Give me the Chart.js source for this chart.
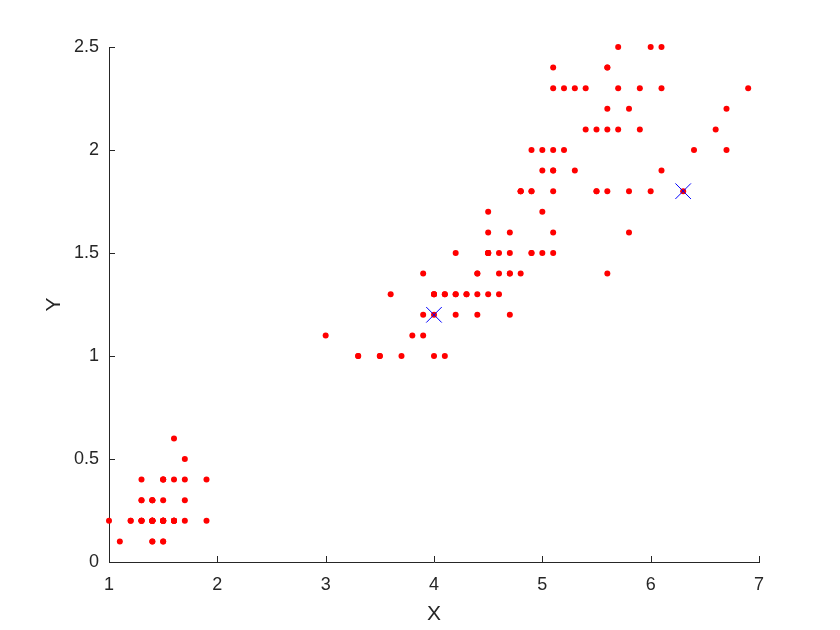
<!DOCTYPE html>
<html>
<head>
<meta charset="utf-8">
<script src="https://cdn.jsdelivr.net/npm/chart.js@4"></script>
<style>
html,body{margin:0;padding:0;background:#fff;}
#wrap{width:840px;height:630px;}
</style>
</head>
<body>
<div id="wrap"><canvas id="c" width="840" height="630"></canvas></div>
<script>
// Petal length (X) and petal width (Y)
const xValues = [
1.4,1.4,1.3,1.5,1.4,1.7,1.4,1.5,1.4,1.5,1.5,1.6,1.4,1.1,1.2,1.5,1.3,1.4,1.7,1.5,
1.7,1.5,1.0,1.7,1.9,1.6,1.6,1.5,1.4,1.6,1.6,1.5,1.5,1.4,1.5,1.2,1.3,1.4,1.3,1.5,
1.3,1.3,1.3,1.6,1.9,1.4,1.6,1.4,1.5,1.4,
4.7,4.5,4.9,4.0,4.6,4.5,4.7,3.3,4.6,3.9,3.5,4.2,4.0,4.7,3.6,4.4,4.5,4.1,4.5,3.9,
4.8,4.0,4.9,4.7,4.3,4.4,4.8,5.0,4.5,3.5,3.8,3.7,3.9,5.1,4.5,4.5,4.7,4.4,4.1,4.0,
4.4,4.6,4.0,3.3,4.2,4.2,4.2,4.3,3.0,4.1,
6.0,5.1,5.9,5.6,5.8,6.6,4.5,6.3,5.8,6.1,5.1,5.3,5.5,5.0,5.1,5.3,5.5,6.7,6.9,5.0,
5.7,4.9,6.7,4.9,5.7,6.0,4.8,4.9,5.6,5.8,6.1,6.4,5.6,5.1,5.6,6.1,5.6,5.5,4.8,5.4,
5.6,5.1,5.1,5.9,5.7,5.2,5.0,5.2,5.4,5.1];
const yValues = [
0.2,0.2,0.2,0.2,0.2,0.4,0.3,0.2,0.2,0.1,0.2,0.2,0.1,0.1,0.2,0.4,0.4,0.3,0.3,0.3,
0.2,0.4,0.2,0.5,0.2,0.2,0.4,0.2,0.2,0.2,0.2,0.4,0.1,0.2,0.2,0.2,0.2,0.1,0.2,0.2,
0.3,0.3,0.2,0.6,0.4,0.3,0.2,0.2,0.2,0.2,
1.4,1.5,1.5,1.3,1.5,1.3,1.6,1.0,1.3,1.4,1.0,1.5,1.0,1.4,1.3,1.4,1.5,1.0,1.5,1.1,
1.8,1.3,1.5,1.2,1.3,1.4,1.4,1.7,1.5,1.0,1.1,1.0,1.2,1.6,1.5,1.6,1.5,1.3,1.3,1.3,
1.2,1.4,1.2,1.0,1.3,1.2,1.3,1.3,1.1,1.3,
2.5,1.9,2.1,1.8,2.2,2.1,1.7,1.8,1.8,2.5,2.0,1.9,2.1,2.0,2.4,2.3,1.8,2.2,2.3,1.5,
2.3,2.0,2.0,1.8,2.1,1.8,1.8,1.8,2.1,1.6,1.9,2.0,2.2,1.5,1.4,2.3,2.4,1.8,1.8,2.1,
2.4,2.3,1.9,2.3,2.5,2.3,1.9,2.0,2.3,1.8];
// Highlighted points (blue crosses)
const markX = [4.0, 6.3];
const markY = [1.2, 1.8];
const xTicks = [1,2,3,4,5,6,7];
const yTicks = [0,0.5,1,1.5,2,2.5];

const pts = xValues.map((x,i)=>({x:x,y:yValues[i]}));
const marks = markX.map((x,i)=>({x:x,y:markY[i]}));
const axisColor = '#262626';
const fam = 'Liberation Sans, Arial, sans-serif';

const innerTicks = {
  id:'innerTicks',
  afterDraw(chart){
    const ctx = chart.ctx, a = chart.chartArea;
    const xs = chart.scales.x, ys = chart.scales.y;
    ctx.save();
    ctx.strokeStyle = axisColor; ctx.lineWidth = 1;
    ctx.beginPath();
    xTicks.forEach(v=>{const p=Math.round(xs.getPixelForValue(v))+0.5; ctx.moveTo(p,a.bottom); ctx.lineTo(p,a.bottom-6);});
    yTicks.forEach(v=>{const p=Math.round(ys.getPixelForValue(v))+0.5; ctx.moveTo(a.left,p); ctx.lineTo(a.left+6,p);});
    ctx.stroke();
    ctx.restore();
  }
};

new Chart(document.getElementById('c'), {
  type:'scatter',
  data:{datasets:[
    {data:pts, pointStyle:'circle', pointRadius:3, pointBorderWidth:0, backgroundColor:'#ff0000', borderColor:'#ff0000', order:2, clip:false},
    {data:marks, pointStyle:'crossRot', pointRadius:11, pointBorderWidth:1, borderColor:'#0000ff', backgroundColor:'#0000ff', order:1, clip:false}
  ]},
  options:{
    responsive:false, animation:false,
    layout:{padding:{left:0,top:47,right:81,bottom:0}},
    plugins:{legend:{display:false}, tooltip:{enabled:false}},
    scales:{
      x:{type:'linear', min:1, max:7,
        afterBuildTicks(s){s.ticks = xTicks.map(v=>({value:v}));},
        afterFit(s){s.height = 68;},
        grid:{display:false, drawTicks:false},
        border:{display:true, color:axisColor, width:1},
        ticks:{color:axisColor, font:{family:fam, size:18}, padding:12, maxRotation:0,
          callback:(v)=>String(v)},
        title:{display:true, text:'X', color:axisColor, font:{family:fam, size:21}, padding:{top:0,bottom:3}}
      },
      y:{type:'linear', min:0, max:2.5,
        afterBuildTicks(s){s.ticks = yTicks.map(v=>({value:v}));},
        afterFit(s){s.width = 109;},
        grid:{display:false, drawTicks:false},
        border:{display:true, color:axisColor, width:1},
        ticks:{color:axisColor, font:{family:fam, size:18}, padding:10,
          callback:(v)=>String(v)},
        title:{display:true, text:'Y', color:axisColor, font:{family:fam, size:21}, padding:{top:42,bottom:0}}
      }
    }
  },
  plugins:[innerTicks]
});
</script>
</body>
</html>
